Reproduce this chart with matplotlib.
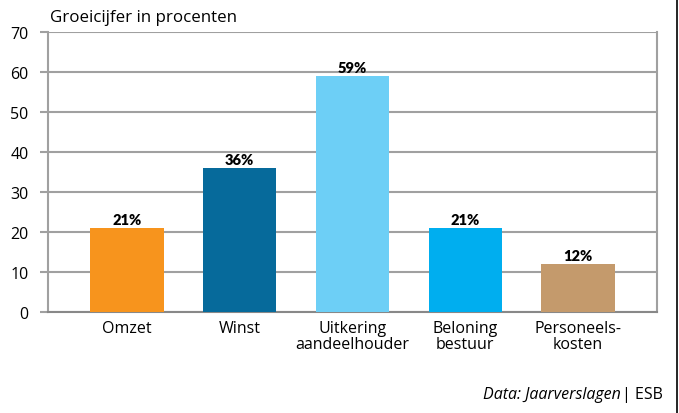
import matplotlib.pyplot as plt

categories = ['Omzet', 'Winst', 'Uitkering\naandeelhouder', 'Beloning\nbestuur', 'Personeels-\nkosten']
values = [21, 36, 59, 21, 12]
labels = ['21%', '36%', '59%', '21%', '12%']
colors = ['#F7941D', '#066A9B', '#6DCFF6', '#00AEEF', '#C49A6C']
yticks = [0, 10, 20, 30, 40, 50, 60, 70]

plt.rcParams['font.family'] = ['Open Sans', 'DejaVu Sans']

fig = plt.figure(figsize=(6.79, 4.14), dpi=100)
ax = fig.add_axes([48 / 679, 1 - 313 / 414, 609 / 679, 280 / 414])

x = range(len(categories))
ax.bar(x, values, width=0.65, color=colors, zorder=3)
for i, v in enumerate(values):
    ax.text(i, v + 0.6, labels[i], ha='center', va='bottom', fontsize=10.5,
            fontweight='heavy', family='Lato', zorder=4)

ax.set_xlim(-0.70, 4.70)
ax.set_ylim(0, 70)
ax.set_yticks(yticks)
ax.set_yticklabels([str(t) for t in yticks], fontsize=11.5)
ax.set_xticks(list(x))
ax.set_xticklabels(categories, fontsize=11.5, linespacing=1.0)
ax.tick_params(axis='x', length=0, pad=6)
ax.tick_params(axis='y', length=6, color='#A0A0A0', width=1.5, pad=8)
ax.grid(axis='y', color='#A0A0A0', linewidth=1.5, zorder=0)
for s in ax.spines.values():
    s.set_color('#A0A0A0')
    s.set_linewidth(1.5)
ax.spines['top'].set_visible(False)
ax.spines['bottom'].set_color('#888888')

fig.text(50 / 679, 1 - 18 / 414, 'Groeicijfer in procenten', fontsize=12.2, va='center', ha='left')
fig.text(621 / 679, 1 - 395 / 414, 'Data: Jaarverslagen', fontsize=11.5, style='italic',
         va='center', ha='right')
fig.text(663 / 679, 1 - 395 / 414, '| ESB', fontsize=11.5, va='center', ha='right')
fig.add_artist(plt.Line2D([677 / 679, 677 / 679], [0, 1], color='black', linewidth=1.2))

fig.savefig('out.png', dpi=100)
